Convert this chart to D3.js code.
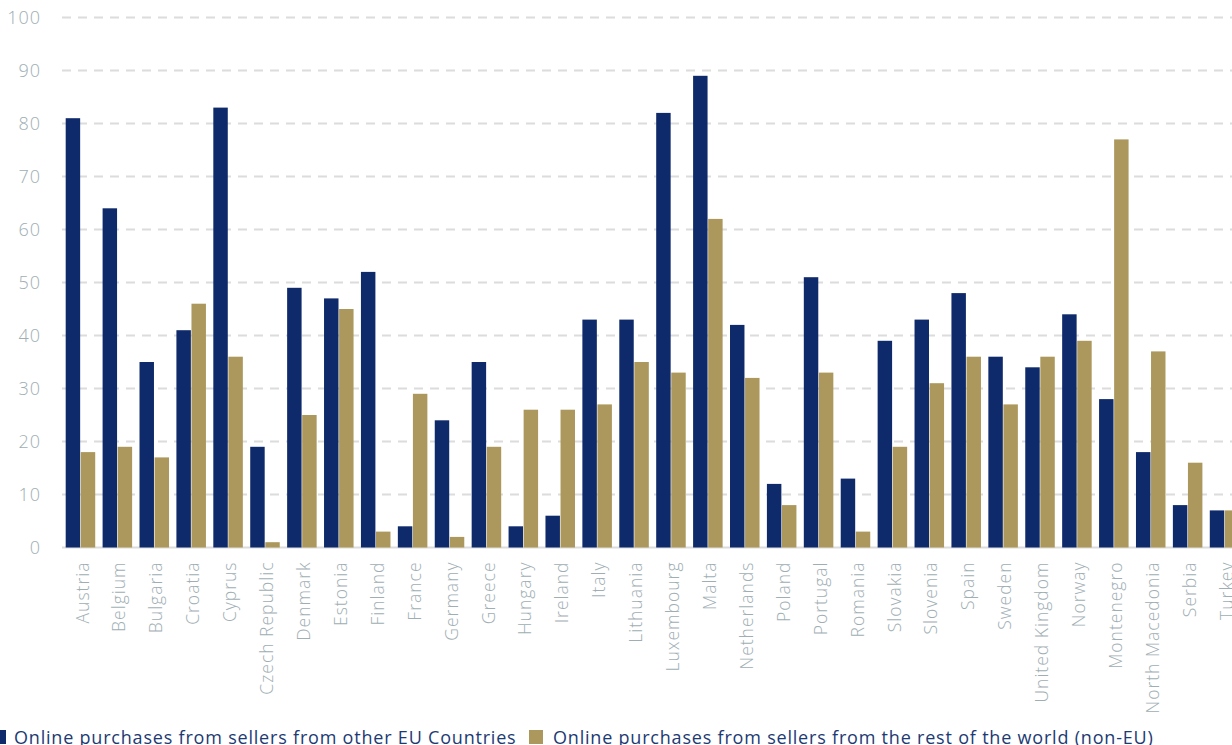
<!DOCTYPE html>
<html>
<head>
<meta charset="utf-8">
<script src="https://cdn.jsdelivr.net/npm/d3@7"></script>
<style>
  html, body { margin: 0; padding: 0; background: #ffffff; }
  svg { display: block; }
  text { font-family: "Open Sans", "Lato", sans-serif; }
</style>
</head>
<body>
<svg id="chart" width="1232" height="745"></svg>
<script>
// Countries along the x axis
const countries = [
  "Austria", "Belgium", "Bulgaria", "Croatia", "Cyprus", "Czech Republic",
  "Denmark", "Estonia", "Finland", "France", "Germany", "Greece", "Hungary",
  "Ireland", "Italy", "Lithuania", "Luxembourg", "Malta", "Netherlands",
  "Poland", "Portugal", "Romania", "Slovakia", "Slovenia", "Spain", "Sweden",
  "United Kingdom", "Norway", "Montenegro", "North Macedonia", "Serbia", "Turkey"
];

// Share of online buyers purchasing from sellers in other EU countries (%)
const otherEU = [
  81, 64, 35, 41, 83, 19, 49, 47, 52, 4, 24, 35, 4, 6, 43, 43, 82, 89, 42,
  12, 51, 13, 39, 43, 48, 36, 34, 44, 28, 18, 8, 7
];

// Share of online buyers purchasing from sellers outside the EU (%)
const nonEU = [
  18, 19, 17, 46, 36, 1, 25, 45, 3, 29, 2, 19, 26, 26, 27, 35, 33, 62, 32,
  8, 33, 3, 19, 31, 36, 27, 36, 39, 77, 37, 16, 7
];

const seriesNames = [
  "Online purchases from sellers from other EU Countries",
  "Online purchases from sellers from the rest of the world (non-EU)"
];

const yTicks = [0, 10, 20, 30, 40, 50, 60, 70, 80, 90, 100];

const colors = ["#0f2a6b", "#ac985d"];
const axisGrey = "#9eaeb3";

const svg = d3.select("#chart");
const W = 1232;

const x = d3.scaleBand()
  .domain(countries)
  .range([62, 1243])
  .paddingInner(0.2)
  .paddingOuter(0.1);

const xSub = d3.scaleBand()
  .domain([0, 1])
  .range([0, x.bandwidth()])
  .paddingInner(0.04);

const y = d3.scaleLinear()
  .domain([0, 100])
  .range([547.5, 17.5]);

// Horizontal gridlines
const grid = svg.append("g");
grid.selectAll("line")
  .data(yTicks)
  .join("line")
  .attr("x1", 62)
  .attr("x2", W)
  .attr("y1", d => y(d))
  .attr("y2", d => y(d))
  .attr("stroke", "#dcdcdc")
  .attr("stroke-width", 2)
  .attr("stroke-dasharray", d => d === 0 ? null : "9,7");

// Y axis labels
const yAxis = svg.append("g")
  .attr("transform", "translate(41,0)")
  .call(d3.axisLeft(y).tickValues(yTicks).tickSize(0).tickPadding(0));
yAxis.select(".domain").remove();
yAxis.selectAll("text")
  .attr("fill", axisGrey)
  .style("font-size", "18px")
  .style("font-weight", 300)
  .style("letter-spacing", "1px")
  .attr("dy", "0.35em");

// Bars
const rows = countries.map((c, i) => ({ country: c, values: [otherEU[i], nonEU[i]] }));

const groups = svg.append("g")
  .selectAll("g")
  .data(rows)
  .join("g")
  .attr("transform", d => `translate(${x(d.country)},0)`);

groups.selectAll("rect")
  .data(d => d.values.map((v, k) => ({ k, v })))
  .join("rect")
  .attr("x", d => xSub(d.k))
  .attr("width", xSub.bandwidth())
  .attr("y", d => y(d.v))
  .attr("height", d => y(0) - y(d.v))
  .attr("fill", d => colors[d.k]);

// X axis labels, rotated to read bottom-to-top
const xAxis = svg.append("g")
  .attr("transform", `translate(0,${y(0)})`)
  .call(d3.axisBottom(x).tickSize(0).tickPadding(0));
xAxis.select(".domain").remove();
xAxis.selectAll("text")
  .attr("fill", axisGrey)
  .style("font-size", "17.5px")
  .style("font-weight", 300)
  .style("letter-spacing", "1px")
  .attr("text-anchor", "end")
  .attr("transform", "rotate(-90)")
  .attr("x", -14)
  .attr("y", 2)
  .attr("dy", "0.35em");

// Legend
const legend = svg.append("g").attr("transform", "translate(0,737)");
const legendX = [-8, 529];
const legendTextX = [14, 553];
seriesNames.forEach((name, k) => {
  legend.append("rect")
    .attr("x", legendX[k])
    .attr("y", -7)
    .attr("width", 14)
    .attr("height", 14)
    .attr("fill", colors[k]);
  legend.append("text")
    .attr("x", legendTextX[k])
    .attr("y", 0)
    .attr("dy", "0.38em")
    .attr("fill", "#1d3a73")
    .style("font-size", "18px")
    .style("letter-spacing", "0.8px")
    .text(name);
});
</script>
</body>
</html>
